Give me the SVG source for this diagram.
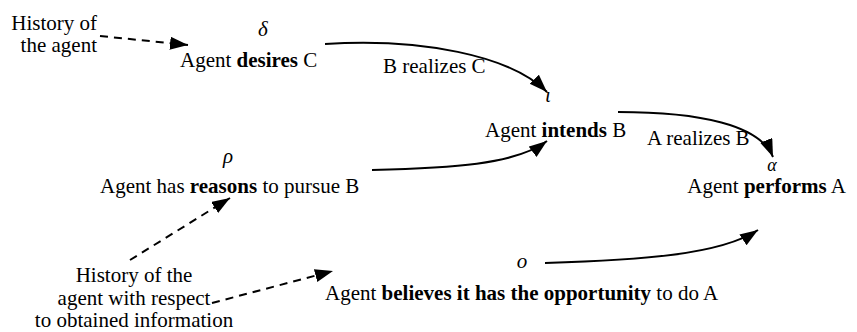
<svg xmlns="http://www.w3.org/2000/svg" width="857" height="332" viewBox="0 0 857 332">
<style>
text{font-family:"Liberation Serif","Times New Roman",serif;font-size:21px;fill:#000}
.b{font-weight:bold}
.g{font-style:italic}
.m{text-anchor:middle}
.e{text-anchor:end}
.s{font-size:18px}
.c{fill:none;stroke:#000;stroke-width:2}
.d{stroke-dasharray:8 6}
</style>
<defs>
<marker id="ah" markerUnits="userSpaceOnUse" markerWidth="20" markerHeight="14" refX="18" refY="6.5" orient="auto">
<path d="M0,0 L18,6.5 L0,13 Z" fill="#000"/>
</marker>
</defs>
<rect width="857" height="332" fill="#fff"/>
<g id="connectors">
<path class="c d" d="M100,36 L188,45" marker-end="url(#ah)"/>
<path class="c" d="M325,44 C420,38 510,55 547,92" marker-end="url(#ah)"/>
<path class="c" d="M372,170 C450,168 515,165 547,141" marker-end="url(#ah)"/>
<path class="c" d="M618,112 C700,112 760,125 773,157" marker-end="url(#ah)"/>
<path class="c" d="M545,263 C640,260 720,255 758,230" marker-end="url(#ah)"/>
<path class="c d" d="M130,260 L230,198" marker-end="url(#ah)"/>
<path class="c d" d="M212,303 L333,271" marker-end="url(#ah)"/>
</g>
<g id="history">
<text class="e" x="97" y="30">History of</text>
<text class="e" x="97" y="52">the agent</text>
</g>
<g id="desires">
<text class="g m" x="263" y="36">δ</text>
<text x="180" y="67">Agent <tspan class="b">desires</tspan> C</text>
</g>
<g id="label-bc"><text x="383" y="73">B realizes C</text></g>
<g id="intends">
<text class="g m" x="548" y="102">ι</text>
<text x="485" y="137">Agent <tspan class="b">intends</tspan> B</text>
</g>
<g id="label-ab"><text x="647" y="145">A realizes B</text></g>
<g id="performs">
<text class="g m s" x="772" y="171">α</text>
<text class="e" x="846" y="193">Agent <tspan class="b">performs</tspan> A</text>
</g>
<g id="reasons">
<text class="g m" x="228" y="163">ρ</text>
<text x="100" y="193">Agent has <tspan class="b">reasons</tspan> to pursue B</text>
</g>
<g id="history-info">
<text class="m" x="134" y="282">History of the</text>
<text class="m" x="134" y="305">agent with respect</text>
<text class="m" x="134" y="327">to obtained information</text>
</g>
<g id="opportunity">
<text class="g m" x="522" y="268">ο</text>
<text x="325" y="300">Agent <tspan class="b">believes it has the opportunity</tspan> to do A</text>
</g>
</svg>
